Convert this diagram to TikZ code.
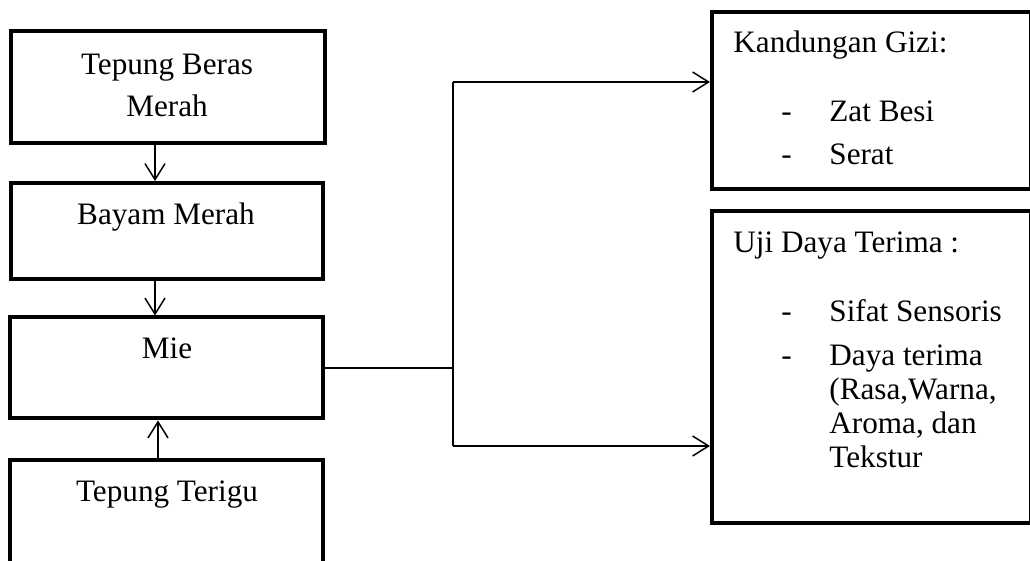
\documentclass[tikz,border=0pt]{standalone}
\usepackage{fontspec}
\setmainfont{Liberation Serif}
\usetikzlibrary{arrows.meta}
\begin{document}
\begin{tikzpicture}[x=0.5pt,y=-0.5pt,
  box/.style={draw=black,line width=2pt,rectangle,inner sep=0pt},
  conn/.style={draw=black,line width=0.75pt},
  arr/.style={conn,-{Straight Barb[length=8pt,width=10pt,line width=0.75pt]}},
  txt/.style={inner sep=0pt,font=\fontsize{15.6pt}{18pt}\selectfont},
  ctxt/.style={txt,anchor=base},
  ltxt/.style={txt,anchor=base west}]
\useasboundingbox (0,0) rectangle (1030,561);
\clip (0,0) rectangle (1030,561);
\fill[white] (0,0) rectangle (1030,561);
% left column boxes
\node[box,minimum width=156.75pt,minimum height=56pt] (b1) at (167.75,87.5) {};
\node[box,minimum width=156pt,minimum height=48pt] (b2) at (167,231) {};
\node[box,minimum width=156.5pt,minimum height=50.5pt] (b3) at (166.5,368) {};
\node[box,minimum width=156.5pt,minimum height=52.5pt] (b4) at (166.5,512.5) {};
% right boxes
\node[box,minimum width=159.5pt,minimum height=88.5pt] (gizi) at (871.5,100.5) {};
\node[box,minimum width=159.5pt,minimum height=156pt] (uji) at (871.5,367) {};
% texts left
\node[ctxt] (t1a) at (167,75) {Tepung Beras};
\node[ctxt] (t1b) at (167,117) {Merah};
\node[ctxt] (t2) at (166,225) {Bayam Merah};
\node[ctxt] (t3) at (167,359) {Mie};
\node[ctxt] (t4) at (167,502) {Tepung Terigu};
% texts right
\node[ltxt] (g0) at (733,53) {Kandungan Gizi:};
\node[ltxt] (g1d) at (781,122) {-};
\node[ltxt] (g1) at (829,122) {Zat Besi};
\node[ltxt] (g2d) at (781,165) {-};
\node[ltxt] (g2) at (829,165) {Serat};
\node[ltxt] (u0) at (733,253) {Uji Daya Terima :};
\node[ltxt] (u1d) at (781,322) {-};
\node[ltxt] (u1) at (829,322) {Sifat Sensoris};
\node[ltxt] (u2d) at (781,366) {-};
\node[ltxt] (u2) at (829,366) {Daya terima};
\node[ltxt] (u3) at (829,400) {(Rasa,Warna,};
\node[ltxt] (u4) at (829,434) {Aroma, dan};
\node[ltxt] (u5) at (829,468) {Tekstur};
% vertical arrows
\coordinate (c1) at (155,0);
\coordinate (c2) at (158,0);
\draw[arr] (b1.south -| c1) -- (b2.north -| c1);
\draw[arr] (b2.south -| c1) -- (b3.north -| c1);
\draw[arr] (b4.north -| c2) -- (b3.south -| c2);
% branch connector
\coordinate (j) at (453,368);
\coordinate (k1) at (453,82);
\coordinate (k2) at (453,446);
\draw[conn] (b3.east) -- (j);
\draw[conn] (k1) -- (k2);
\draw[arr] (k1) -- (k1 -| gizi.west);
\draw[arr] (k2) -- (k2 -| uji.west);
\end{tikzpicture}
\end{document}
